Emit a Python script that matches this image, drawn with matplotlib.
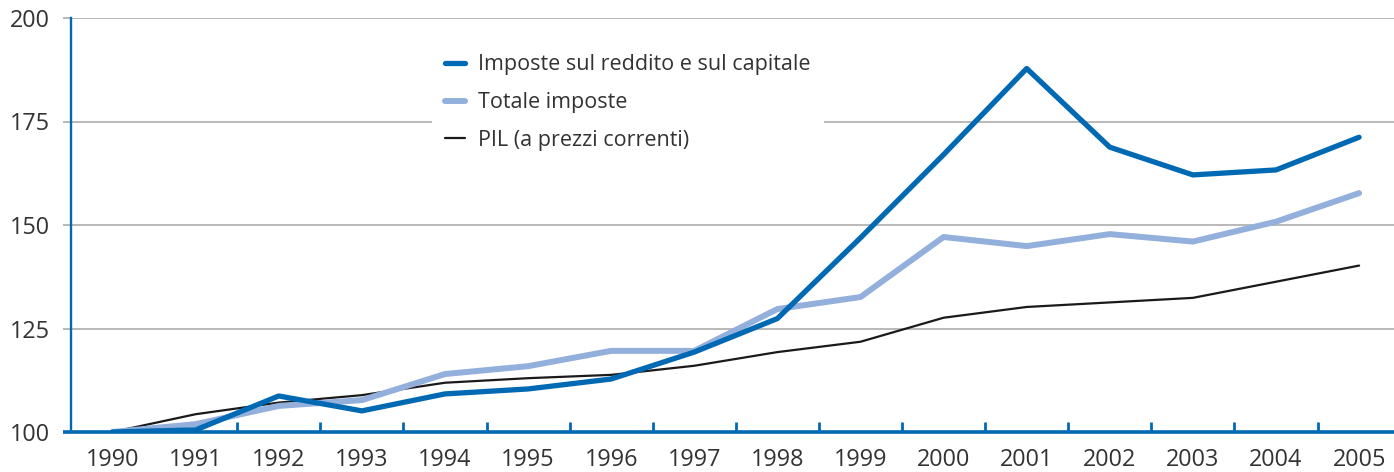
import matplotlib
matplotlib.use("Agg")
import matplotlib.pyplot as plt

years = list(range(1990, 2006))
imposte_reddito = [100, 100.5, 108.7, 105.1, 109.2, 110.4, 112.8, 119.3, 127.4,
                   146.9, 167.0, 187.8, 168.8, 162.1, 163.3, 171.2]
totale_imposte = [100, 101.9, 106.3, 107.7, 114.0, 115.9, 119.6, 119.6, 129.7,
                  132.6, 147.1, 144.9, 147.8, 146.0, 150.8, 157.7]
pil = [100, 104.3, 107.1, 108.9, 111.9, 113.0, 113.8, 116.0, 119.3,
       121.8, 127.6, 130.2, 131.3, 132.4, 136.3, 140.2]
labels = ["Imposte sul reddito e sul capitale", "Totale imposte", "PIL (a prezzi correnti)"]
yticks = [100, 125, 150, 175, 200]

DARK = "#0069b4"
LIGHT = "#93afdc"
BLACK = "#1a1a1a"
GRID = "#a6a6a6"
TEXT = "#333333"

plt.rcParams['font.family'] = ['Open Sans', 'DejaVu Sans']

fig = plt.figure(figsize=(13.94, 4.72), dpi=100)
ax = fig.add_axes([71/1394, 40/472, 1 - 71/1394, (432-18)/472])

l3, = ax.plot(years, pil, color=BLACK, lw=1.6, zorder=3, solid_capstyle='round')
l2, = ax.plot(years, totale_imposte, color=LIGHT, lw=4.3, zorder=4, solid_capstyle='round')
l1, = ax.plot(years, imposte_reddito, color=DARK, lw=3.8, zorder=5, solid_capstyle='round')

ax.set_xlim(1989.5, 2005.42)
ax.set_ylim(100, 200)
ax.set_yticks(yticks)
ax.set_xticks(years)
ax.set_xticks([y + 0.5 for y in years[1:-1]], minor=True)

for s in ['top', 'right', 'bottom']:
    ax.spines[s].set_visible(False)
ax.spines['left'].set_color(DARK)
ax.spines['left'].set_linewidth(1.7)

ax.yaxis.grid(True, color=GRID, lw=1.1)
ax.set_axisbelow(True)
ax.tick_params(axis='y', length=6, width=1.1, color=GRID, pad=9, labelsize=16.8, labelcolor=TEXT)
ax.tick_params(axis='x', which='major', length=0, pad=11.5, labelsize=16.8, labelcolor=TEXT)
ax.tick_params(axis='x', which='minor', direction='in', length=7, width=2, color=DARK)

# bottom axis line extending left to the tick position
ax.plot([-8/1323, 1], [100, 100], color=DARK, lw=2.6, transform=ax.get_yaxis_transform(),
        clip_on=False, zorder=6, solid_capstyle='butt')

leg = ax.legend([l1, l2, l3], labels, loc='upper left',
                bbox_to_anchor=(432/1394, 1 - 41.5/472), bbox_transform=fig.transFigure,
                borderaxespad=0, frameon=True, fancybox=False, framealpha=1,
                edgecolor='none', facecolor='white', fontsize=15.5,
                handlelength=0.95, handletextpad=0.6, labelspacing=0.78, borderpad=0.6)
for t in leg.get_texts():
    t.set_color(TEXT)
leg.set_zorder(7)

fig.savefig("out.png", dpi=100)
